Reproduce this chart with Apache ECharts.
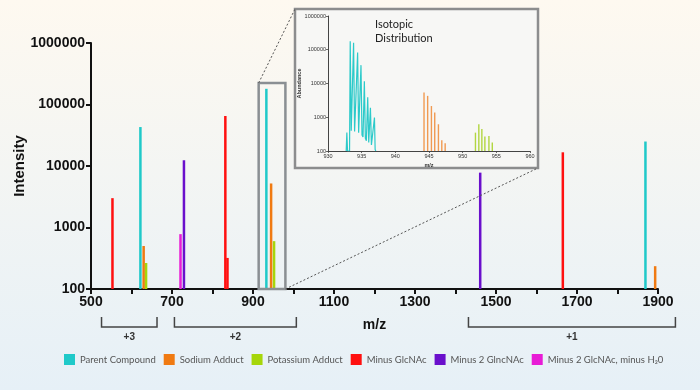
<!DOCTYPE html>
<html><head><meta charset="utf-8">
<script src="https://cdn.jsdelivr.net/npm/echarts@6/dist/echarts.min.js"></script>
<style>html,body{margin:0;padding:0}#c{width:700px;height:390px}</style>
</head><body><div id="c"></div>
<script>
// ---- data (m/z, intensity) ----
const seriesNames = ['Parent Compound','Sodium Adduct','Potassium Adduct','Minus GlcNAc','Minus 2 GlncNAc','Minus 2 GlcNAc, minus H\u20820'];
const seriesColors = ['#1fc9c9','#f07a12','#a6d60a','#ff1010','#6a0fcc','#e81cd6'];
const parentPeaks = [[622,43000],[933,180000],[1869,25000]];
const sodiumPeaks = [[630,500],[944.7,5200],[1893,235]];
const potassiumPeaks = [[636,265],[952,600]];
const minusGlcPeaks = [[553,3000],[831.7,65000],[837,320],[1665,16700]];
const minus2Peaks = [[729.5,12400],[1461,7800]];
const minus2H2OPeaks = [[721,780]];
const mainPeaks = [parentPeaks,sodiumPeaks,potassiumPeaks,minusGlcPeaks,minus2Peaks,minus2H2OPeaks];

// inset (isotopic distribution)
const insetParentProfile = [[932.7,100],[932.8,350],[932.9,100],[933.2,100],[933.3,180000],[933.45,400],[933.6,450],[933.8,160000],[933.95,380],[934.15,420],[934.4,83000],[934.55,350],[934.7,330],[934.9,35000],[935.05,300],[935.2,260],[935.4,11600],[935.55,240],[935.7,200],[935.9,3900],[936.05,180],[936.15,170],[936.3,1900],[936.45,150],[936.6,140],[936.9,980],[937.0,110],[937.1,100]];
const insetSodiumPeaks = [[944.26,5400],[944.8,4300],[945.36,2150],[945.85,1380],[946.4,620],[946.9,210],[947.4,170]];
const insetPotassiumPeaks = [[951.9,350],[952.4,620],[952.85,450],[953.3,270],[953.9,280],[954.4,180]];

const xTicksMain = [500,700,900,1100,1300,1500,1700,1900];
const zoomRange = [914,980,224000];
const brackets = [{from:526,to:663,label:'+3'},{from:706,to:1007,label:'+2'},{from:1432,to:1943,label:'+1'}];

const chart = echarts.init(document.getElementById('c'));
const boldFont = 'Liberation Sans, Arial, sans-serif';

function spikeRender(width){
  return function(params, api){
    const x = api.value(0), y = api.value(1);
    const top = api.coord([x,y]);
    const base = api.coord([x,100]);
    return {type:'rect', shape:{x:top[0]-width/2, y:top[1], width:width, height:base[1]-top[1]},
      style:{fill:api.visual('color')}};
  };
}

const series = [];
mainPeaks.forEach((d,i)=>{
  series.push({type:'custom', name:seriesNames[i], xAxisIndex:0, yAxisIndex:0,
    itemStyle:{color:seriesColors[i]}, data:d, renderItem:spikeRender(2.5), z:3});
});
series.push({type:'line', name:seriesNames[0], xAxisIndex:1, yAxisIndex:1, data:insetParentProfile,
  showSymbol:false, lineStyle:{color:'#2ccaca', width:1.2}, itemStyle:{color:seriesColors[0]}, z:5});
series.push({type:'custom', name:seriesNames[1], xAxisIndex:1, yAxisIndex:1, data:insetSodiumPeaks,
  itemStyle:{color:'#f09a52'}, renderItem:spikeRender(1.4), z:5});
series.push({type:'custom', name:seriesNames[2], xAxisIndex:1, yAxisIndex:1, data:insetPotassiumPeaks,
  itemStyle:{color:'#b2d640'}, renderItem:spikeRender(1.4), z:5});

const option = {
  backgroundColor: new echarts.graphic.LinearGradient(0,0,0,1,[{offset:0,color:'#fef9f0'},{offset:1,color:'#e6f0f7'}]),
  animation:false,
  legend:{
    data:seriesNames.map((n,i)=>({name:n, itemStyle:{color:seriesColors[i]}})),
    left:64, top:354, padding:0, icon:'rect', itemWidth:11, itemHeight:11, itemGap:8,
    textStyle:{fontFamily:'Lato, sans-serif', fontSize:9.5, color:'#555'}, selectedMode:false
  },
  grid:[
    {left:91, right:42, top:43, bottom:101, containLabel:false, outerBoundsMode:'none'},
    {left:328, right:170, top:16, bottom:239, containLabel:false, outerBoundsMode:'none'}
  ],
  xAxis:[
    {type:'value', gridIndex:0, min:500, max:1900, interval:100,
     name:'m/z', nameLocation:'middle', nameGap:29, nameMoveOverlap:false,
     nameTextStyle:{fontFamily:boldFont, fontWeight:'bold', fontSize:14, color:'#111'},
     axisLine:{lineStyle:{color:'#111', width:2}},
     axisTick:{length:5, lineStyle:{color:'#111', width:2}},
     axisLabel:{fontFamily:boldFont, fontWeight:'bold', fontSize:14, color:'#111', margin:6,
       formatter:v=> xTicksMain.indexOf(v)>=0 ? String(v) : ''},
     splitLine:{show:false}},
    {type:'value', gridIndex:1, min:930, max:960, interval:5,
     name:'m/z', nameLocation:'middle', nameGap:11, nameMoveOverlap:false,
     nameTextStyle:{fontFamily:boldFont, fontWeight:'bold', fontSize:5.5, color:'#333'},
     axisLine:{lineStyle:{color:'#444', width:1}},
     axisTick:{length:2, lineStyle:{color:'#444', width:0.8}},
     axisLabel:{fontFamily:boldFont, fontSize:5.5, color:'#333', margin:2},
     splitLine:{show:false}}
  ],
  yAxis:[
    {type:'log', gridIndex:0, min:100, max:1000000, logBase:10,
     name:'Intensity', nameLocation:'middle', nameGap:64, nameMoveOverlap:false,
     nameTextStyle:{fontFamily:boldFont, fontWeight:'bold', fontSize:15, color:'#111'},
     axisLine:{show:true, lineStyle:{color:'#111', width:2}},
     axisTick:{show:true, length:5, lineStyle:{color:'#111', width:2}},
     axisLabel:{fontFamily:boldFont, fontWeight:'bold', fontSize:14, color:'#111', margin:6, formatter:v=>String(v)},
     splitLine:{show:false}},
    {type:'log', gridIndex:1, min:100, max:1000000, logBase:10,
     name:'Abundance', nameLocation:'middle', nameGap:26, nameMoveOverlap:false,
     nameTextStyle:{fontFamily:boldFont, fontWeight:'bold', fontSize:5.5, color:'#333'},
     axisLine:{show:true, lineStyle:{color:'#444', width:1}},
     axisTick:{show:true, length:2, lineStyle:{color:'#444', width:0.8}},
     axisLabel:{fontFamily:boldFont, fontSize:5.5, color:'#333', margin:2, formatter:v=>String(v)},
     splitLine:{show:false}}
  ],
  series:series
};
chart.setOption(option);

// decorations positioned through the axes
const px = (x,y)=>chart.convertToPixel({xAxisIndex:0,yAxisIndex:0},[x,y]);
const hTL = px(zoomRange[0], zoomRange[2]);
const hBR = px(zoomRange[1], 100);
const insetBox = {x:295, y:9, w:243, h:159};
const g = [];
g.push({type:'rect', z:-5, shape:{x:insetBox.x, y:insetBox.y, width:insetBox.w, height:insetBox.h},
  style:{fill:'#f7f7f5', stroke:'#8c8d8e', lineWidth:2.5}});
g.push({type:'rect', z:10, shape:{x:hTL[0], y:hTL[1], width:hBR[0]-hTL[0], height:hBR[1]-hTL[1]},
  style:{fill:'none', stroke:'#8a8f93', lineWidth:2.5}});
g.push({type:'line', z:10, shape:{x1:hTL[0], y1:hTL[1], x2:insetBox.x, y2:insetBox.y},
  style:{stroke:'#555', lineWidth:1, lineDash:[2,2]}});
g.push({type:'line', z:10, shape:{x1:hBR[0], y1:hBR[1], x2:insetBox.x+insetBox.w, y2:insetBox.y+insetBox.h},
  style:{stroke:'#555', lineWidth:1, lineDash:[2,2]}});
g.push({type:'text', z:10, left:375, top:17, style:{text:'Isotopic\nDistribution', font:'11px Lato, sans-serif', fill:'#222', lineHeight:14}});
brackets.forEach(b=>{
  const a = px(b.from,100)[0], c = px(b.to,100)[0];
  g.push({type:'polyline', z:10, shape:{points:[[a,317],[a,327],[c,327],[c,317]]},
    style:{stroke:'#444', lineWidth:1.5, fill:'none'}});
  g.push({type:'text', z:10, x:(a+c)/2, y:337, style:{text:b.label, font:'bold 10px Liberation Sans, Arial, sans-serif', fill:'#333', align:'center', verticalAlign:'middle'}});
});
chart.setOption({graphic:g});
</script></body></html>
